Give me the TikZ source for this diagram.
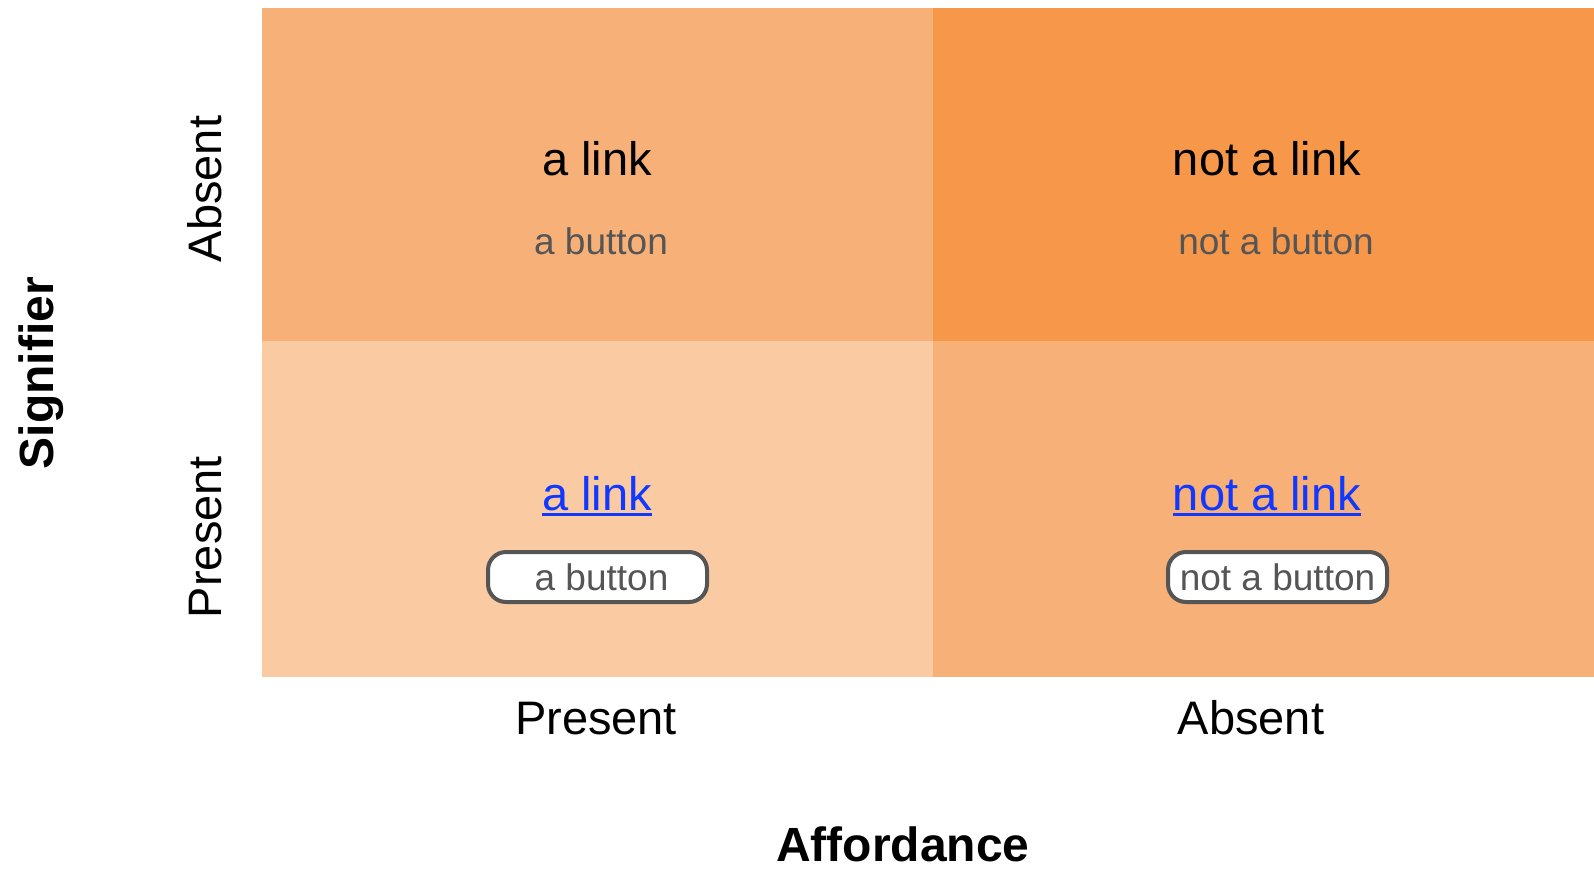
\documentclass[tikz,border=0pt]{standalone}
\usepackage{fontspec}
\setmainfont{Liberation Sans}
\definecolor{cellmid}{RGB}{247,176,119}
\definecolor{celldark}{RGB}{246,151,74}
\definecolor{celllight}{RGB}{250,203,162}
\definecolor{linkblue}{RGB}{17,56,255}
\definecolor{btngray}{RGB}{85,85,85}
\begin{document}
\begin{tikzpicture}[x=1pt,y=-1pt,
  big/.style={font=\fontsize{47}{56}\selectfont, inner sep=0pt, anchor=base},
  small/.style={font=\fontsize{37}{44}\selectfont, inner sep=0pt, anchor=base, text=btngray},
  axis/.style={font=\bfseries\fontsize{48}{56}\selectfont, inner sep=0pt, anchor=base},
  btn/.style={draw=btngray, line width=4pt, fill=white, rounded corners=18pt,
    minimum width=219pt, minimum height=50pt, inner sep=0pt,
    font=\fontsize{37}{44}\selectfont, text=btngray},
  uline/.style={draw=linkblue, line width=3pt}]
\useasboundingbox (0,0) rectangle (1594,868);
% cells
\fill[cellmid] (262,8) rectangle (933,341);
\fill[celldark] (933,8) rectangle (1594,341);
\fill[celllight] (262,341) rectangle (933,677);
\fill[cellmid] (933,341) rectangle (1594,677);
% top row
\node[big] (tl1) at (597,175) {a link};
\node[small] (tl2) at (601,254) {a button};
\node[big] (tr1) at (1267,175) {not a link};
\node[small] (tr2) at (1276,254) {not a button};
% bottom row
\node[big, text=linkblue] (bl1) at (597,510) {a link};
\draw[uline] ([yshift=-4pt]bl1.base west) -- ([yshift=-4pt]bl1.base east);
\node[btn] (bl2) at (597.5,577) {\hspace*{8pt}a button};
\node[big, text=linkblue] (br1) at (1267,510) {not a link};
\draw[uline] ([yshift=-4pt]br1.base west) -- ([yshift=-4pt]br1.base east);
\node[btn] (br2) at (1277.5,577) {not a button};
% axis labels
\node[big, rotate=90] (sa) at (221,189) {Absent};
\node[big, rotate=90] (sp) at (221,537) {Present};
\node[axis, rotate=90] (sig) at (53,373) {Signifier};
\node[big] (ap) at (596,734) {Present};
\node[big] (aa) at (1251,734) {Absent};
\node[axis] (aff) at (903,861) {Affordance};
\end{tikzpicture}
\end{document}
